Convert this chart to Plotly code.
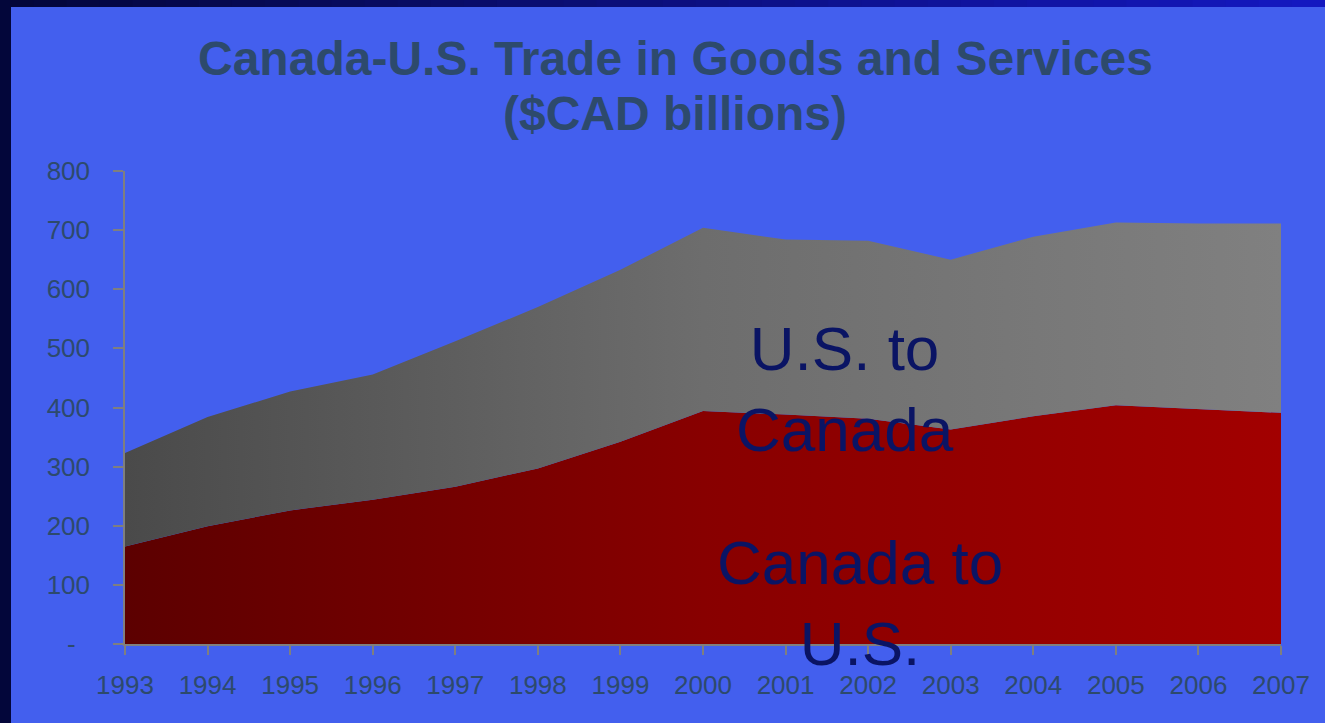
import plotly.graph_objects as go

years = list(range(1993, 2008))
canada_to_us = [165, 199, 226, 244, 266, 297, 342, 394, 388, 381, 363, 385, 404, 397, 391]
us_to_canada = [158, 185, 201, 212, 246, 273, 291, 310, 296, 301, 287, 304, 309, 314, 320]
y_ticks = [0, 100, 200, 300, 400, 500, 600, 700, 800]
y_ticktext = ["-\u00a0\u00a0", "100", "200", "300", "400", "500", "600", "700", "800"]
title_line1 = "Canada-U.S. Trade in Goods and Services"
title_line2 = "($CAD billions)"

BG = "#435FEE"
TXT = "#2d4a6c"
FONT = "Liberation Sans, Arial, sans-serif"

fig = go.Figure()
fig.add_trace(go.Scatter(
    x=years, y=canada_to_us, name="Canada to U.S.", stackgroup="one",
    mode="lines", line=dict(width=0, color="#8a0000"),
    fillgradient=dict(type="horizontal",
                      colorscale=[[0, "#5c0000"], [0.5, "#880000"], [1, "#a20000"]]),
    hoverinfo="x+y"))
fig.add_trace(go.Scatter(
    x=years, y=us_to_canada, name="U.S. to Canada", stackgroup="one",
    mode="lines", line=dict(width=0, color="#6d6d6d"),
    fillgradient=dict(type="horizontal",
                      colorscale=[[0, "#4a4a4a"], [0.5, "#6d6d6d"], [1, "#808080"]]),
    hoverinfo="x+y"))

shapes = []
# left dark border
shapes.append(dict(type="rect", xref="paper", yref="paper",
                   xsizemode="pixel", ysizemode="pixel", xanchor=0, yanchor=1,
                   x0=-125, x1=-114, y0=-560, y1=171,
                   fillcolor="#03063a", line=dict(width=0), layer="above"))
# top border gradient
n = 40
c0 = (3, 6, 58)
c1 = (20, 24, 192)
for i in range(n):
    t = i / (n - 1)
    col = "rgb(%d,%d,%d)" % tuple(round(c0[k] + (c1[k] - c0[k]) * t) for k in range(3))
    xa = -125 + 1325 * i / n
    xb = -125 + 1325 * (i + 1) / n + 1
    shapes.append(dict(type="rect", xref="paper", yref="paper",
                       xsizemode="pixel", ysizemode="pixel", xanchor=0, yanchor=1,
                       x0=xa, x1=xb, y0=164, y1=172,
                       fillcolor=col, line=dict(width=0), layer="above"))

annotations = [
    dict(text="<b>%s</b>" % title_line1, xref="paper", yref="paper",
         x=0.4758, y=1.2368, xanchor="center", yanchor="middle", showarrow=False,
         font=dict(family=FONT, size=48, color=TXT)),
    dict(text="<b>%s</b>" % title_line2, xref="paper", yref="paper",
         x=0.4758, y=1.1226, xanchor="center", yanchor="middle", showarrow=False,
         font=dict(family=FONT, size=48, color=TXT)),
    dict(text="U.S. to<br>Canada", x=2001.72, y=432, xref="x", yref="y",
         xanchor="center", yanchor="middle", showarrow=False,
         font=dict(family=FONT, size=62, color="#0a1464")),
    dict(text="Canada to<br>U.S.", x=2001.9, y=69, xref="x", yref="y",
         xanchor="center", yanchor="middle", showarrow=False,
         font=dict(family=FONT, size=62, color="#0a1464")),
]

fig.update_layout(
    width=1325, height=723,
    margin=dict(l=125, r=44, t=171, b=79, autoexpand=False),
    paper_bgcolor=BG, plot_bgcolor=BG,
    showlegend=False,
    shapes=shapes,
    annotations=annotations,
    xaxis=dict(range=[1993, 2007], tickmode="array", tickvals=years,
               ticktext=[str(y) for y in years],
               showgrid=False, zeroline=False,
               showline=True, linecolor="#7f7f7f", linewidth=1.5,
               ticks="outside", ticklen=9, tickcolor="#7f7f7f", tickwidth=1.5,
               ticklabelstandoff=8,
               tickfont=dict(family=FONT, size=26, color=TXT)),
    yaxis=dict(range=[0, 800], tickmode="array", tickvals=y_ticks,
               ticktext=y_ticktext,
               showgrid=False, zeroline=False,
               showline=True, linecolor="#7f7f7f", linewidth=1.5,
               ticks="outside", ticklen=10, tickcolor="#7f7f7f", tickwidth=1.5,
               ticklabelstandoff=18,
               tickfont=dict(family=FONT, size=26, color=TXT)),
)

fig.write_html("out.html", config={"displayModeBar": False},
               post_script="document.body.style.margin='0';document.body.style.padding='0';document.body.style.overflow='hidden';document.body.style.background='" + BG + "';")
